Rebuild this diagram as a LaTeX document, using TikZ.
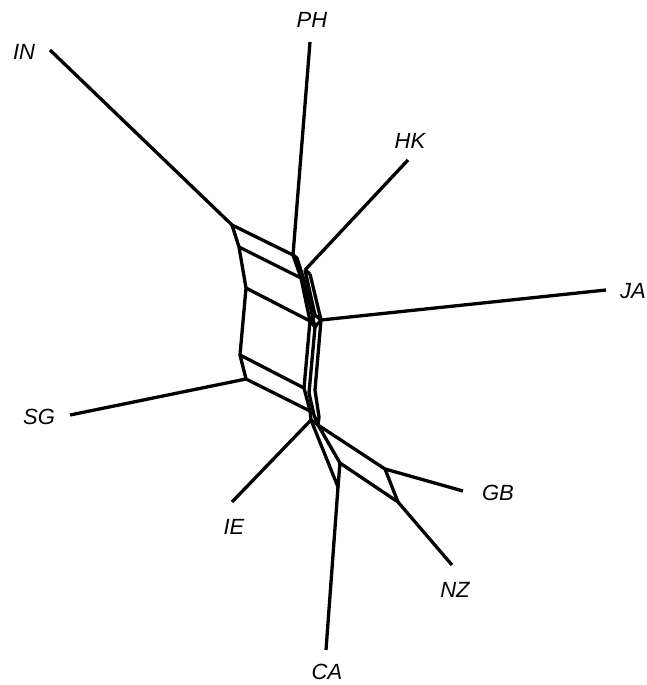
\documentclass[tikz,border=0pt]{standalone}
\usepackage{fontspec}
\setmainfont{Liberation Sans}
\begin{document}
\begin{tikzpicture}[x=1pt,y=-1pt,
  net/.style={line width=3.3pt,line join=round,black},
  lbl/.style={font=\fontsize{22}{26}\selectfont\itshape,inner sep=0pt}]
\useasboundingbox (0,0) rectangle (647,685);
% leaf ends
\coordinate (inE) at (50,50);
\coordinate (phE) at (310,42);
\coordinate (hkE) at (408,160);
\coordinate (jaE) at (606,290);
\coordinate (sgE) at (70,415);
\coordinate (ieE) at (232,502);
\coordinate (gbE) at (463,491);
\coordinate (nzE) at (452,565);
\coordinate (caE) at (326,650);
% left column
\coordinate (L1) at (232,225);
\coordinate (L2) at (239,247);
\coordinate (L3) at (246,288);
\coordinate (L4) at (240,355);
\coordinate (L5) at (246,379);
% middle main line
\coordinate (M1) at (293,255);
\coordinate (M2) at (301,278);
\coordinate (M3) at (310,321);
\coordinate (M4) at (304,388);
\coordinate (M5) at (310,411);
% offset line
\coordinate (K1) at (297,258);
\coordinate (K2) at (304,280);
% HK junction
\coordinate (H1) at (305,270);
\coordinate (H2) at (310,274);
% diamond
\coordinate (D2) at (315,315);
\coordinate (D3) at (321,320);
\coordinate (D4) at (315,327);
% lower parallel lines
\coordinate (E4) at (309,393);
\coordinate (E5) at (314,415);
\coordinate (F4) at (315,390);
\coordinate (F5) at (319,417);
% bottom cluster
\coordinate (X) at (311,420);
\coordinate (Y) at (318,425);
\coordinate (G1) at (385,469);
\coordinate (N1) at (398,502);
\coordinate (C1) at (340,463);
\coordinate (C2) at (338,487);
% labels
\node[lbl] (IN) at (24,52) {IN};
\node[lbl] (PH) at (312,20) {PH};
\node[lbl] (HK) at (410,141) {HK};
\node[lbl] (JA) at (633,291) {JA};
\node[lbl] (SG) at (39,417) {SG};
\node[lbl] (IE) at (234,527) {IE};
\node[lbl] (GB) at (498,493) {GB};
\node[lbl] (NZ) at (455,590) {NZ};
\node[lbl] (CA) at (327,672) {CA};
% pendant edges
\draw[net] (inE) -- (L1);
\draw[net] (phE) -- (M1);
\draw[net] (hkE) -- (H1);
\draw[net] (jaE) -- (D3);
\draw[net] (sgE) -- (L5);
\draw[net] (ieE) -- (X);
\draw[net] (gbE) -- (G1);
\draw[net] (nzE) -- (N1);
\draw[net] (caE) -- (C2);
% left column and bars
\draw[net] (L1) -- (L2) -- (L3) -- (L4) -- (L5);
\draw[net] (L1) -- (M1);
\draw[net] (L2) -- (M2);
\draw[net] (L3) -- (M3);
\draw[net] (L4) -- (M4);
\draw[net] (L5) -- (M5);
% middle column
\draw[net] (M1) -- (M2) -- (M3) -- (M4) -- (M5) -- (X);
\draw[net] (M1) -- (K1) -- (K2) -- (D4);
\draw[net] (H1) -- (H2);
\draw[net] (H1) -- (D2);
\draw[net] (H2) -- (D3);
\draw[net] (M3) -- (D2) -- (D3) -- (D4) -- (M3);
\draw[net] (D4) -- (E4) -- (E5) -- (Y);
\draw[net] (D3) -- (F4) -- (F5) -- (Y);
\draw[net] (X) -- (Y);
% bottom boxes
\draw[net] (Y) -- (G1) -- (N1) -- (C1) -- (Y);
\draw[net] (X) -- (C2) -- (C1);
\end{tikzpicture}
\end{document}
